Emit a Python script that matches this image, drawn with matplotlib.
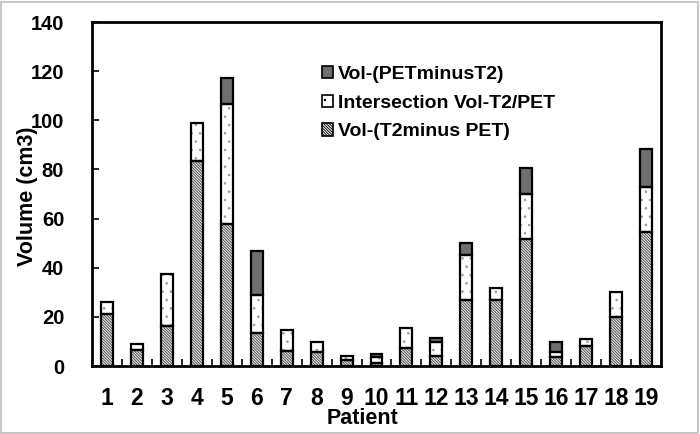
import matplotlib
matplotlib.use("Agg")
import matplotlib.pyplot as plt
from matplotlib.patches import Patch, Rectangle
import numpy as np

plt.rcParams['font.family'] = ['Liberation Sans', 'DejaVu Sans']
plt.rcParams['font.weight'] = 'bold'
plt.rcParams['hatch.linewidth'] = 0.6

patients = [str(i) for i in range(1, 20)]
t2_minus_pet = [21.2, 6.6, 16.1, 83.3, 57.9, 13.6, 6.3, 5.6, 2.3, 1.2, 7.5, 4.1, 27.0, 26.8, 51.8, 3.5, 8.2, 20.0, 54.6]
intersection = [4.7, 2.3, 21.4, 15.6, 48.6, 15.3, 8.4, 4.2, 1.9, 2.3, 7.9, 5.8, 18.0, 5.1, 18.1, 2.1, 2.6, 10.1, 18.4]
pet_minus_t2 = [0, 0, 0, 0, 10.9, 17.8, 0, 0, 0, 1.3, 0, 1.4, 5.1, 0, 10.5, 4.3, 0, 0, 15.4]

labels = ['Vol-(T2minus PET)', 'Intersection Vol-T2/PET', 'Vol-(PETminusT2)']

fig = plt.figure(figsize=(7.0, 4.34), dpi=100)
ax = fig.add_axes([92/700, 1-366/434, (661-92)/700, (366-22)/434])

x = np.arange(len(patients))
w = 0.4
a = np.array(t2_minus_pet)
b = np.array(intersection)
c = np.array(pet_minus_t2)

dense = '\\' * 12
# fills with hatches
ax.bar(x, a, w, color='#e8e8e8', edgecolor='#404040', hatch=dense, linewidth=0, zorder=2)
ax.bar(x, b, w, bottom=a, color='white', edgecolor='#9a9a9a', hatch='..', linewidth=0, zorder=2)
ax.bar(x, c, w, bottom=a + b, color='#6f6f6f', edgecolor='#6f6f6f', linewidth=0, zorder=2)
# outlines
for vals, bot in [(a, 0), (b, a), (c, a + b)]:
    mask = vals > 0
    ax.bar(x[mask], vals[mask], w, bottom=(np.zeros_like(vals) + bot)[mask], fill=False,
           edgecolor='black', linewidth=1.6, zorder=3)

ax.set_xlim(-0.5, len(patients) - 0.5)
ax.set_ylim(0, 140)
ax.set_yticks(np.arange(0, 141, 20))
ax.set_xticks(x)
ax.set_xticklabels(patients)
ax.set_xticks(x[:-1] + 0.5, minor=True)
ax.tick_params(axis='x', which='major', length=0, pad=15, labelsize=16.5)
ax.tick_params(axis='x', which='minor', direction='in', length=5, width=1.2)
ax.tick_params(axis='y', which='major', direction='in', length=5, width=1.2, pad=20, labelsize=14.5)
for s in ax.spines.values():
    s.set_linewidth(2)

fig.text(28/700, 1-196/434, 'Volume (cm3)', rotation=90, ha='center', va='center',
         fontsize=15.5, fontweight='bold')
fig.text(363/700, 1-419/434, 'Patient', ha='center', va='center',
         fontsize=15.5, fontweight='bold')

handles = [
    Patch(facecolor='#6f6f6f', edgecolor='black', linewidth=1.2),
    Patch(facecolor='white', edgecolor='black', hatch='..', linewidth=1.2),
    Patch(facecolor='#e8e8e8', edgecolor='black', hatch=dense, linewidth=1.2),
]
leg = ax.legend(handles, labels[::-1], loc='upper left', bbox_to_anchor=(0.39, 0.895),
                frameon=False, fontsize=14, handlelength=0.6, handleheight=0.6,
                handletextpad=0.25, labelspacing=0.6, borderaxespad=0)
for t in leg.get_texts():
    t.set_fontweight('bold')

fig.patches.append(Rectangle((0.002, 0.003), 0.995, 0.993, transform=fig.transFigure,
                             fill=False, edgecolor='#c8c8c8', linewidth=1.5))

fig.savefig('out.png', dpi=100)
